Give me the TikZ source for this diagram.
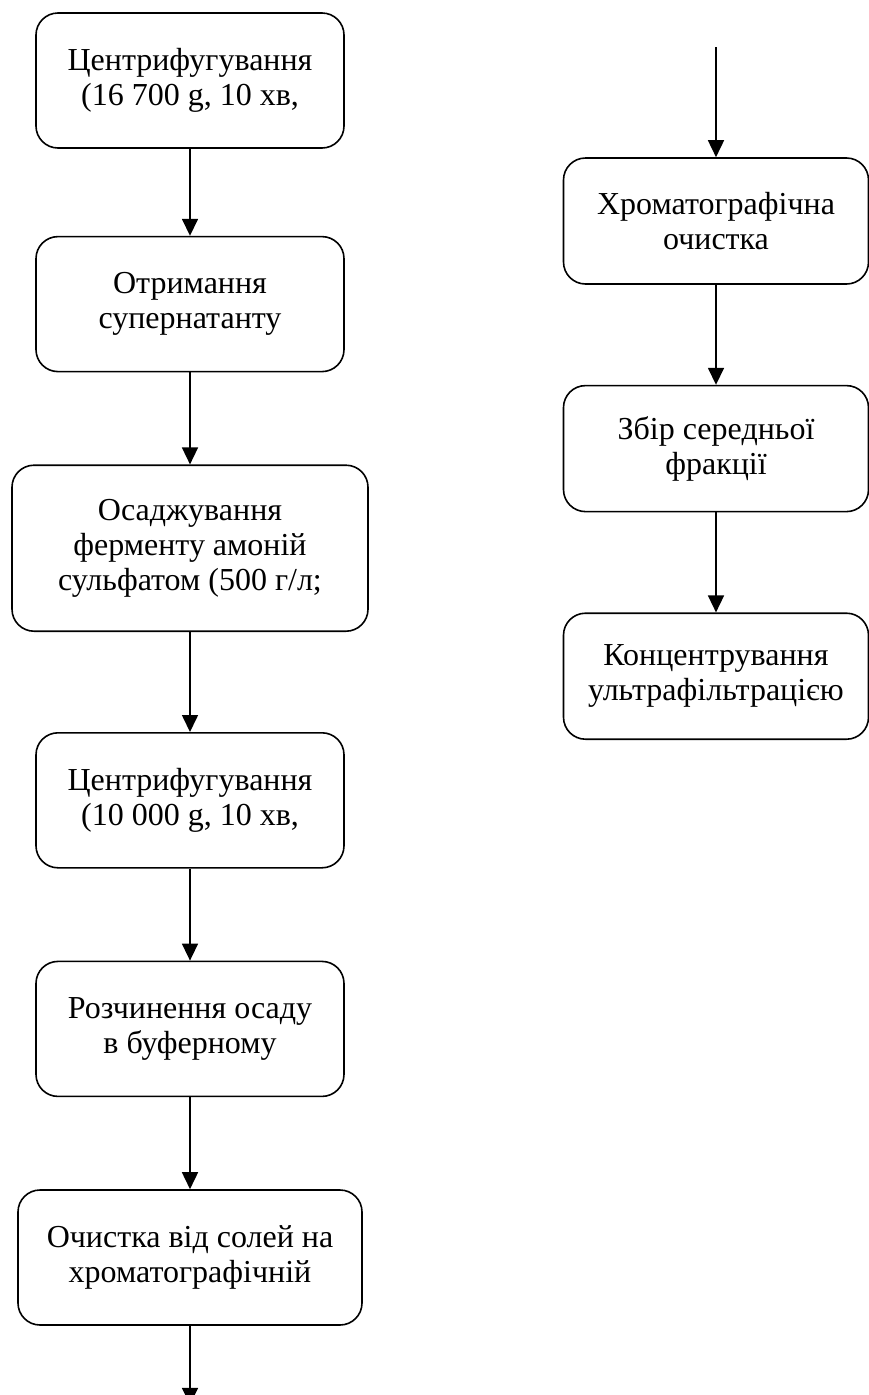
\documentclass[tikz,border=0pt]{standalone}
\usepackage{fontspec}
\setmainfont{Liberation Serif}
\usetikzlibrary{positioning,arrows.meta}
\begin{document}
\begin{tikzpicture}[x=1pt,y=1pt,node distance=92pt]
\tikzstyle{roundrect} = [rectangle, rounded corners=22pt, minimum width=308pt, minimum height=135pt, text centered, align=center, draw=black, line width=1.6pt, font=\fontsize{32}{35}\selectfont]
\tikzstyle{arr} = [line width=1.6pt, -{Triangle[width=16pt,length=17pt]}]
\useasboundingbox (0,0) rectangle (869,-1395);
% left column
\node (cf1) [roundrect] at (190,-80.5) {Центрифугування\\(16 700 g, 10 хв,};
\node (sup) [roundrect, below=87pt of cf1] {Отримання\\супернатанту};
\node (osad) [roundrect, below=of sup, minimum width=356pt, minimum height=166pt] {Осаджування\\ферменту амоній\\сульфатом (500 г/л;};
\node (cf2) [roundrect, below=100pt of osad] {Центрифугування\\(10 000 g, 10 хв,};
\node (rozch) [roundrect, below=of cf2] {Розчинення осаду\\в буферному};
\node (desalt) [roundrect, below=of rozch, minimum width=344pt] {Очистка від солей на\\хроматографічній};
\coordinate (end) at ([yshift=-79pt]desalt.south);
% right column
\coordinate (start) at (716,-47);
\node (chrom) [roundrect, minimum width=305pt, minimum height=126pt] at (716,-221) {Хроматографічна\\очистка};
\node (frac) [roundrect, below=100pt of chrom, minimum width=305pt, minimum height=126pt] {Збір середньої\\фракції};
\node (conc) [roundrect, below=100pt of frac, minimum width=305pt, minimum height=126pt] {Концентрування\\ультрафільтрацією};
\draw [arr] (cf1) -- (sup);
\draw [arr] (sup) -- (osad);
\draw [arr] (osad) -- (cf2);
\draw [arr] (cf2) -- (rozch);
\draw [arr] (rozch) -- (desalt);
\draw [arr] (desalt) -- (end);
\draw [arr] (start) -- (chrom);
\draw [arr] (chrom) -- (frac);
\draw [arr] (frac) -- (conc);
\end{tikzpicture}
\end{document}
